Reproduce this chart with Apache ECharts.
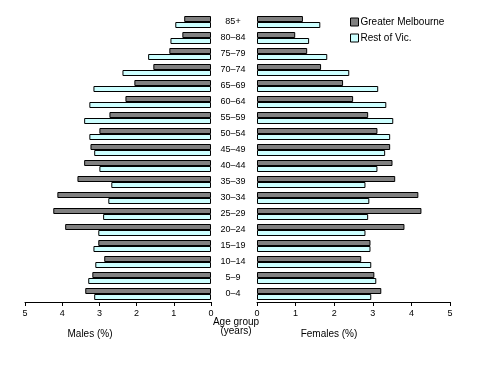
<!DOCTYPE html>
<html><head><meta charset="utf-8">
<script src="https://cdn.jsdelivr.net/npm/echarts@6/dist/echarts.min.js"></script>
<style>html,body{margin:0;padding:0;background:#fff}#c{width:501px;height:368px}</style>
</head><body><div id="c"></div>
<script>
const ageGroups = ["85+","80–84","75–79","70–74","65–69","60–64","55–59","50–54","45–49","40–44","35–39","30–34","25–29","20–24","15–19","10–14","5–9","0–4"];
const malesMelbourne = [0.72,0.77,1.12,1.55,2.06,2.30,2.73,3.00,3.24,3.41,3.59,4.13,4.24,3.92,3.03,2.87,3.19,3.38];
const malesRestVic   = [0.96,1.09,1.69,2.38,3.16,3.27,3.41,3.27,3.14,3.00,2.68,2.76,2.90,3.03,3.16,3.11,3.30,3.14];
const femalesMelbourne = [1.19,0.99,1.30,1.66,2.23,2.49,2.88,3.12,3.45,3.51,3.58,4.18,4.26,3.82,2.94,2.70,3.04,3.22];
const femalesRestVic   = [1.64,1.35,1.82,2.39,3.14,3.35,3.53,3.45,3.32,3.12,2.81,2.91,2.88,2.81,2.94,2.96,3.09,2.96];
const xTicks = [0,1,2,3,4,5];

const FONT = "Liberation Sans";
const GREY = "#808080", CYAN = "#ccffff";
const chart = echarts.init(document.getElementById('c'));
const axisLbl = {fontFamily: FONT, fontSize: 9, color: '#000', margin: 7};
function xAx(grid, inverse){
  return {type:'value', gridIndex:grid, min:xTicks[0], max:xTicks[xTicks.length-1], interval:1, inverse:inverse,
    axisLine:{show:true, lineStyle:{color:'#000', width:1}},
    axisTick:{show:true, inside:false, length:4, lineStyle:{color:'#000'}},
    axisLabel: axisLbl, splitLine:{show:false}};
}
function bar(name, data, color, xi){
  return {name, type:'bar', xAxisIndex:xi, yAxisIndex:xi, data, barGap:'0%', barWidth:6,
    itemStyle:{color, borderColor:'#000', borderWidth:1}, emphasis:{disabled:true}, animation:false};
}
chart.setOption({
  animation:false,
  textStyle:{fontFamily:FONT},
  legend:{orient:'vertical', left:345, top:12, itemWidth:8, itemHeight:8, itemGap:6, icon:'rect',
    textStyle:{fontFamily:FONT, fontSize:10, color:'#000', padding:[0,0,0,-3]},
    data:[{name:'Greater Melbourne', itemStyle:{color:GREY, borderColor:'#000', borderWidth:1}},
          {name:'Rest of Vic.', itemStyle:{color:CYAN, borderColor:'#000', borderWidth:1}}]},
  grid:[{left:25, right:290, top:14, bottom:66},{left:257, right:51, top:14, bottom:66}],
  xAxis:[xAx(0,true), xAx(1,false)],
  yAxis:[
    {type:'category', gridIndex:0, data:ageGroups, inverse:true, axisLine:{show:false}, axisTick:{show:false}, axisLabel:{show:false}},
    {type:'category', gridIndex:1, data:ageGroups, inverse:true, axisLine:{show:false}, axisTick:{show:false},
     axisLabel:{show:true, align:'center', margin:24, fontFamily:FONT, fontSize:9, color:'#000'}}
  ],
  series:[
    bar('Greater Melbourne', malesMelbourne, GREY, 0),
    bar('Rest of Vic.', malesRestVic, CYAN, 0),
    bar('Greater Melbourne', femalesMelbourne, GREY, 1),
    bar('Rest of Vic.', femalesRestVic, CYAN, 1)
  ],
  graphic:[
    {type:'text', style:{text:'Males (%)', x:90, y:334, align:'center', verticalAlign:'middle', font:'10px "Liberation Sans"', fill:'#000'}},
    {type:'text', style:{text:'Age group', x:236, y:322, align:'center', verticalAlign:'middle', font:'10px "Liberation Sans"', fill:'#000'}},
    {type:'text', style:{text:'(years)', x:236, y:331, align:'center', verticalAlign:'middle', font:'10px "Liberation Sans"', fill:'#000'}},
    {type:'text', style:{text:'Females (%)', x:329, y:334, align:'center', verticalAlign:'middle', font:'10px "Liberation Sans"', fill:'#000'}}
  ]
});
</script></body></html>
